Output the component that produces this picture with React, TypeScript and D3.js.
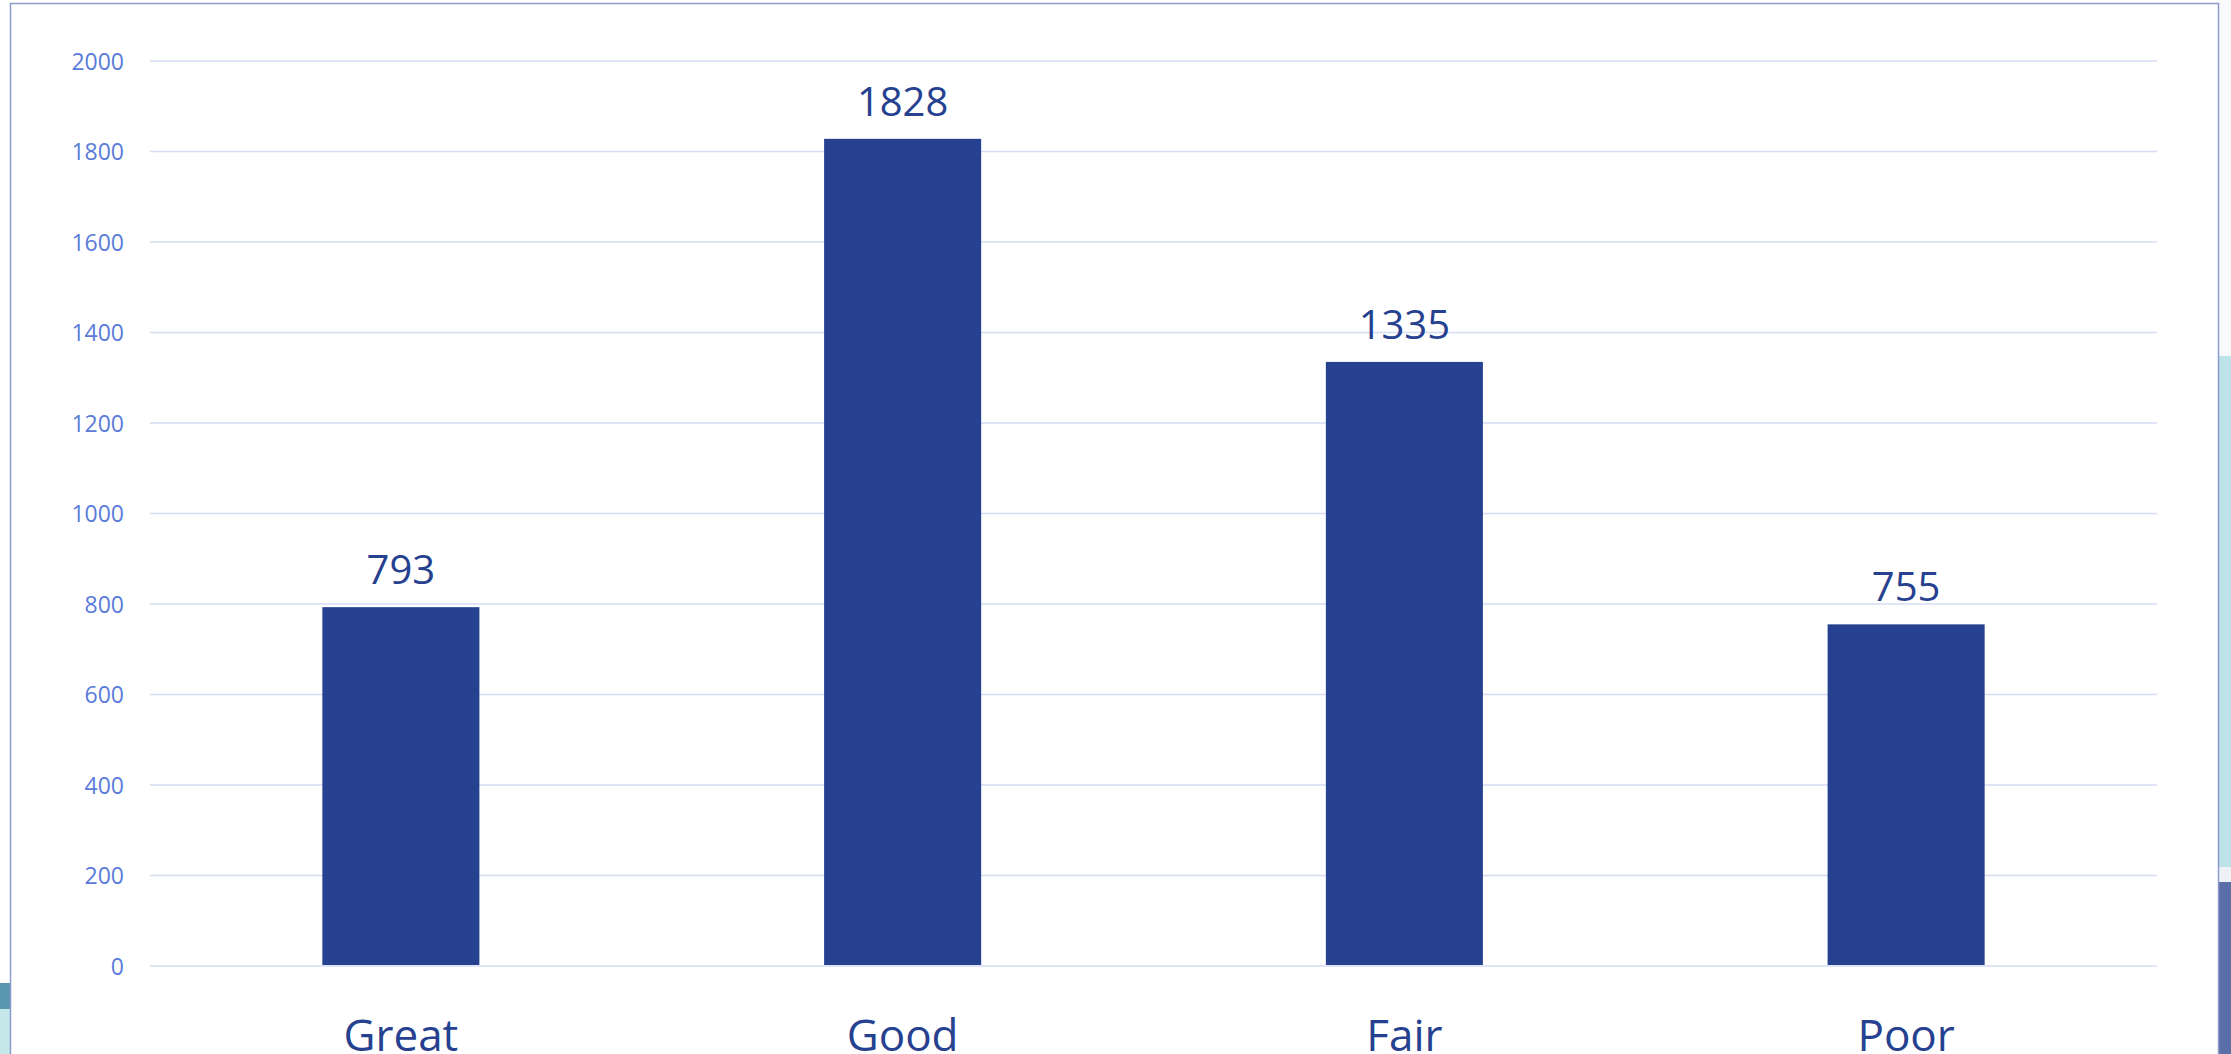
import React from "react";
import * as d3 from "d3";

const categories = ["Great", "Good", "Fair", "Poor"];
const values = [793, 1828, 1335, 755];
const yTicks = [0, 200, 400, 600, 800, 1000, 1200, 1400, 1600, 1800, 2000];

const W = 2231;
const H = 1054;
const FONT = "'Open Sans', 'Noto Sans', sans-serif";

export default function App() {
  const x = d3
    .scaleBand<string>()
    .domain(categories)
    .range([150, 2157])
    .paddingInner(0.687)
    .paddingOuter(0.3435);
  const y = d3.scaleLinear().domain([0, 2000]).range([966, 61]);

  return (
    <svg
      width={W}
      height={H}
      style={{ position: "absolute", left: 0, top: 0, display: "block" }}
    >
      <rect x={0} y={0} width={W} height={H} fill="#ffffff" />
      {/* background slivers outside the frame */}
      <rect x={2219} y={0} width={12} height={356} fill="#f8f9fb" />
      <rect x={2219} y={356} width={12} height={511} fill="#bde2e9" />
      <rect x={2219} y={867} width={12} height={15} fill="#eef2f6" />
      <rect x={2219} y={882} width={12} height={172} fill="#5a6ea8" />
      <rect x={0} y={983} width={10} height={26} fill="#5896ad" />
      <rect x={0} y={1009} width={10} height={45} fill="#c6e7ea" />
      {/* frame */}
      <rect
        x={10.5}
        y={3.5}
        width={2208}
        height={H + 20}
        fill="none"
        stroke="#8c9cc9"
        strokeWidth={1.5}
      />
      {/* gridlines + ticks */}
      {yTicks.map((t) => (
        <g key={t}>
          <line
            x1={150}
            x2={2157}
            y1={y(t)}
            y2={y(t)}
            stroke="#d5dcf3"
            strokeWidth={1.6}
          />
          <text
            x={124}
            y={y(t) + 8.5}
            textAnchor="end"
            fontFamily={FONT}
            fontSize={23}
            fill="#5a7bd9"
          >
            {t}
          </text>
        </g>
      ))}
      {/* bars */}
      {categories.map((c, i) => (
        <g key={c}>
          <rect
            x={x(c)}
            y={y(values[i])}
            width={x.bandwidth()}
            height={y(0) - y(values[i]) - 1}
            fill="#25418f"
          />
          <text
            x={(x(c) as number) + x.bandwidth() / 2}
            y={y(values[i]) - 23}
            textAnchor="middle"
            fontFamily={FONT}
            fontSize={40}
            fill="#25418f"
          >
            {values[i]}
          </text>
          <text
            x={(x(c) as number) + x.bandwidth() / 2}
            y={1051}
            textAnchor="middle"
            fontFamily={FONT}
            fontSize={44}
            fill="#25418f"
          >
            {c}
          </text>
        </g>
      ))}
    </svg>
  );
}
